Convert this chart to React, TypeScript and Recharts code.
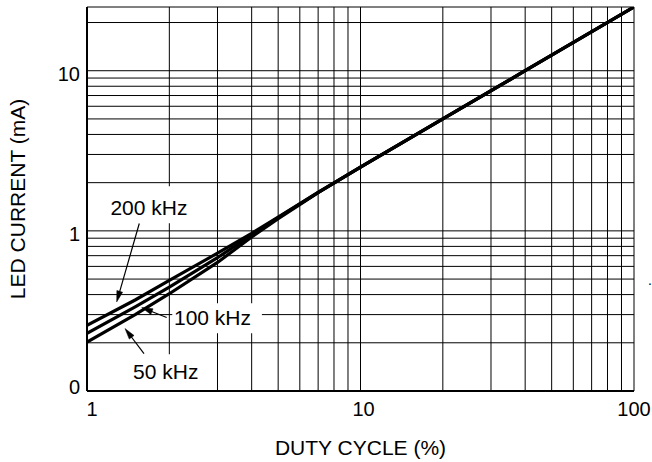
import React from 'react';
import {
  LineChart,
  Line,
  XAxis,
  YAxis,
  CartesianGrid,
  ReferenceLine,
  ReferenceArea,
  ReferenceDot,
} from 'recharts';

// Duty cycle (%) sample points
const duty = [1, 1.5, 2, 3, 4, 5, 7, 10, 20, 40, 100];
// LED current (mA) per switching frequency
const current200k = [0.257, 0.37, 0.49, 0.725, 0.965, 1.22, 1.74, 2.5, 5.0, 10, 25];
const current100k = [0.229, 0.335, 0.445, 0.68, 0.945, 1.21, 1.74, 2.5, 5.0, 10, 25];
const current50k = [0.202, 0.3, 0.405, 0.635, 0.915, 1.19, 1.73, 2.5, 5.0, 10, 25];

// grid / tick values
const xGridTicks = [1, 2, 3, 4, 5, 6, 7, 8, 9, 10, 20, 30, 40, 50, 60, 70, 80, 90, 100];
const yGridTicks = [0.1, 0.2, 0.3, 0.4, 0.5, 0.6, 0.7, 0.8, 0.9, 1, 2, 3, 4, 5, 6, 7, 8, 9, 10, 20, 25];
const xTickLabels: Record<string, string> = { '1': '1', '10': '10', '100': '100' };
const yTickLabels: Record<string, string> = { '0.1': '0', '1': '1', '10': '10' };

// annotation labels (data coordinates)
const annotationNames = ['200 kHz', '100 kHz', '50 kHz'];
const annotationText = [
  { x: 1.685, y: 1.396 },
  { x: 2.877, y: 0.2868 },
  { x: 1.94, y: 0.1318 },
];
const annotationBox = [
  { x1: 1.135, x2: 2.546, y1: 1.117, y2: 1.9 },
  { x1: 2.05, x2: 4.36, y1: 0.2296, y2: 0.353 },
  { x1: 1.41, x2: 2.7, y1: 0.1, y2: 0.1696 },
];
const arrowTail = [
  { x: 1.553, y: 1.112 },
  { x: 1.956, y: 0.2877 },
  { x: 1.616, y: 0.1714 },
];
const arrowTip = [
  { x: 1.284, y: 0.36 },
  { x: 1.585, y: 0.332 },
  { x: 1.377, y: 0.2455 },
];

const data = duty.map((d, i) => ({
  duty: d,
  f200: current200k[i],
  f100: current100k[i],
  f50: current50k[i],
}));

const FONT = '"Liberation Sans", Arial, Helvetica, sans-serif';

const xTickDx: Record<string, number> = { '1': 5, '10': 3, '100': 0 };
const yTickDy: Record<string, number> = { '0': 2.5, '1': 10, '10': 10 };

const XTick = (props: any) => {
  const { x, y, payload } = props;
  const lab = xTickLabels[String(payload.value)];
  if (!lab) return <g />;
  return (
    <text x={x + xTickDx[lab]} y={y + 17} textAnchor="middle" fontSize={20} fontFamily={FONT} fill="#000">
      {lab}
    </text>
  );
};

const YTick = (props: any) => {
  const { x, y, payload } = props;
  const lab = yTickLabels[String(payload.value)];
  if (!lab) return <g />;
  return (
    <text x={x + 1} y={y + yTickDy[lab]} textAnchor="end" fontSize={20} fontFamily={FONT} fill="#000">
      {lab}
    </text>
  );
};

const ArrowShape = (props: any) => {
  const { x1, y1, x2, y2 } = props;
  if ([x1, y1, x2, y2].some((v) => typeof v !== 'number' || isNaN(v))) return <g />;
  const ang = Math.atan2(y2 - y1, x2 - x1);
  const L = 11;
  const W = 3;
  const c = Math.cos(ang);
  const s = Math.sin(ang);
  const bx = x2 - L * c;
  const by = y2 - L * s;
  const pts = `${x2},${y2} ${bx - W * s},${by + W * c} ${bx + W * s},${by - W * c}`;
  return (
    <g>
      <line x1={x1} y1={y1} x2={bx + 1 * c} y2={by + 1 * s} stroke="#000" strokeWidth={1.2} />
      <polygon points={pts} fill="#000" stroke="#000" strokeWidth={0.5} />
    </g>
  );
};

const YTitle = (props: any) => {
  const vb = props.viewBox || { x: 0, y: 7, width: 87, height: 384 };
  const cx = 17.5;
  const cy = vb.y + vb.height / 2;
  return (
    <text
      x={cx}
      y={cy}
      transform={`rotate(-90, ${cx}, ${cy})`}
      textAnchor="middle"
      dominantBaseline="central"
      fontSize={21}
      fontFamily={FONT}
      fill="#000"
    >
      LED CURRENT (mA)
    </text>
  );
};

const XTitle = (props: any) => {
  const vb = props.viewBox || { x: 87, y: 391, width: 547, height: 71 };
  return (
    <text
      x={vb.x + vb.width / 2}
      y={vb.y + 64}
      textAnchor="middle"
      fontSize={21}
      fontFamily={FONT}
      fill="#000"
    >
      DUTY CYCLE (%)
    </text>
  );
};

export default function App() {
  return (
    <div style={{ position: 'absolute', left: 0, top: 0, width: 652, height: 462, background: '#fff' }}>
      <LineChart
        width={652}
        height={462}
        data={data}
        margin={{ top: 7, right: 18, bottom: 0, left: 0 }}
        style={{ fontFamily: FONT }}
      >
        <CartesianGrid stroke="#000" strokeWidth={1} />
        <XAxis
          dataKey="duty"
          type="number"
          scale="log"
          domain={[1, 100]}
          allowDataOverflow
          ticks={xGridTicks}
          interval={0}
          tick={<XTick />}
          tickLine={false}
          axisLine={{ stroke: '#000', strokeWidth: 2 }}
          height={71}
          label={{ content: (p: any) => <XTitle {...p} /> }}
        />
        <YAxis
          type="number"
          scale="log"
          domain={[0.1, 25]}
          allowDataOverflow
          ticks={yGridTicks}
          interval={0}
          tick={<YTick />}
          tickLine={false}
          axisLine={{ stroke: '#000', strokeWidth: 2 }}
          width={87}
          label={{ content: (p: any) => <YTitle {...p} /> }}
        />
        {annotationNames.map((name, i) => (
          <ReferenceArea
            key={'box' + name}
            x1={annotationBox[i].x1}
            x2={annotationBox[i].x2}
            y1={annotationBox[i].y1}
            y2={annotationBox[i].y2}
            fill="#fff"
            fillOpacity={1}
            stroke="none"
            ifOverflow="visible"
          />
        ))}
        <Line type="linear" dataKey="f200" stroke="#000" strokeWidth={3.2} dot={false} isAnimationActive={false} />
        <Line type="linear" dataKey="f100" stroke="#000" strokeWidth={3.2} dot={false} isAnimationActive={false} />
        <Line type="linear" dataKey="f50" stroke="#000" strokeWidth={3.2} dot={false} isAnimationActive={false} />
        {annotationNames.map((name, i) => (
          <ReferenceLine
            key={'arrow' + name}
            segment={[arrowTail[i], arrowTip[i]]}
            ifOverflow="visible"
            shape={(p: any) => <ArrowShape {...p} />}
          />
        ))}
        {annotationNames.map((name, i) => (
          <ReferenceDot
            key={'lab' + name}
            x={annotationText[i].x}
            y={annotationText[i].y}
            r={0}
            fill="none"
            stroke="none"
            ifOverflow="visible"
            label={{ value: name, position: 'center', fontSize: 21, fontFamily: FONT, fill: '#000' }}
          />
        ))}
      </LineChart>
      <div
        style={{
          position: 'absolute',
          left: 648,
          top: 273,
          fontSize: 14,
          lineHeight: '14px',
          fontFamily: FONT,
          color: '#000',
        }}
      >
        .
      </div>
    </div>
  );
}
